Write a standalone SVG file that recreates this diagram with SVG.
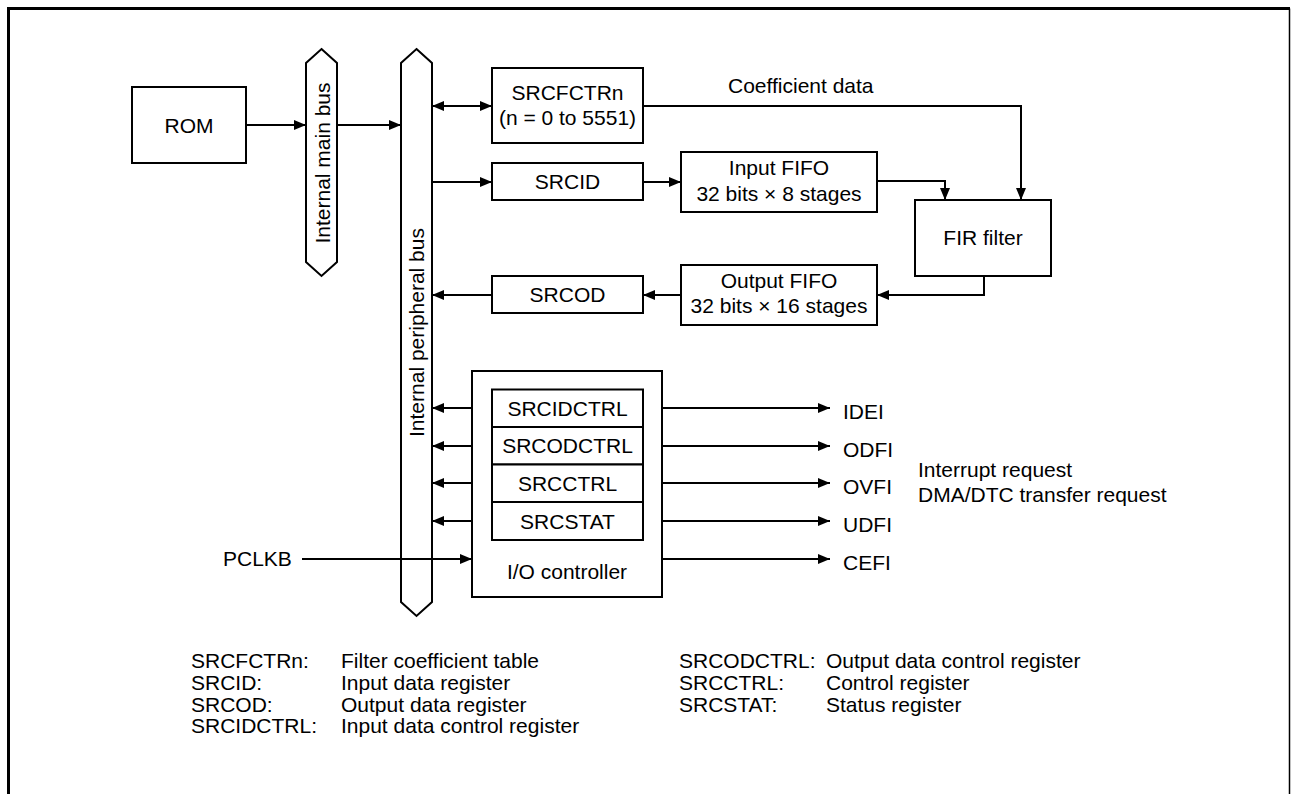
<svg xmlns="http://www.w3.org/2000/svg" width="1291" height="794" viewBox="0 0 1291 794">
<style>
  text { font-family: "Liberation Sans", Arial, sans-serif; font-size: 21px; fill: #000; }
  .c { text-anchor: middle; }
  .box { fill: #fff; stroke: #000; stroke-width: 2; }
  .bus { fill: #fff; stroke: #000; stroke-width: 2; stroke-linejoin: miter; }
  .ln { fill: none; stroke: #000; stroke-width: 2; }
  .a { marker-end: url(#ah); }
  .d { marker-start: url(#ah); marker-end: url(#ah); }
</style>
<defs>
  <marker id="ah" viewBox="0 0 12 10" refX="12" refY="5" markerWidth="12" markerHeight="10" markerUnits="userSpaceOnUse" orient="auto-start-reverse">
    <path d="M0,0 L12,5 L0,10 z" fill="#000"/>
  </marker>
</defs>
<rect width="1291" height="794" fill="#fff"/>
<g id="frame">
  <line x1="8.5" y1="7" x2="8.5" y2="794" stroke="#000" stroke-width="3"/>
  <line x1="7" y1="8.5" x2="1290" y2="8.5" stroke="#000" stroke-width="3"/>
  <line x1="1289.5" y1="8.5" x2="1289.5" y2="794" stroke="#000" stroke-width="1.5"/>
</g>
<g id="connectors">
  <path class="ln a" d="M246,125 H306"/>
  <path class="ln a" d="M337,125 H401"/>
  <path class="ln d" d="M432,106 H492"/>
  <path class="ln a" d="M643,106 H1021 V200"/>
  <path class="ln a" d="M432,182 H492"/>
  <path class="ln a" d="M643,182 H681"/>
  <path class="ln a" d="M877,181 H945 V200"/>
  <path class="ln a" d="M984,276 V295 H877"/>
  <path class="ln a" d="M681,295 H643"/>
  <path class="ln a" d="M492,295 H432"/>
  <path class="ln d" d="M432,408 H492"/>
  <path class="ln d" d="M432,446 H492"/>
  <path class="ln d" d="M432,483 H492"/>
  <path class="ln d" d="M432,521 H492"/>
  <path class="ln a" d="M662,408 H830"/>
  <path class="ln a" d="M662,446 H830"/>
  <path class="ln a" d="M662,483 H830"/>
  <path class="ln a" d="M662,521 H830"/>
  <path class="ln a" d="M662,559 H830"/>
</g>
<g id="rom">
  <rect class="box" x="132" y="87" width="114" height="76"/>
  <text class="c" x="189" y="132.5">ROM</text>
</g>
<g id="main-bus">
  <polygon class="bus" points="321.5,49 337,63 337,262 321.5,276 306,262 306,63"/>
  <text class="c" transform="translate(329.5,163) rotate(-90)">Internal main bus</text>
</g>
<g id="peripheral-bus">
  <polygon class="bus" points="416.5,49 432,63 432,602 416.5,616 401,602 401,63"/>
  <text class="c" transform="translate(423.5,332.5) rotate(-90)">Internal peripheral bus</text>
</g>
<g id="pclkb">
  <text x="223" y="566">PCLKB</text>
  <path class="ln a" d="M302,559 H472"/>
</g>
<g id="srcfctrn">
  <rect class="box" x="492" y="68" width="151" height="75"/>
  <text class="c" x="567.5" y="100">SRCFCTRn</text>
  <text class="c" x="567.5" y="125">(n = 0 to 5551)</text>
</g>
<g id="coef-label">
  <text x="728" y="93">Coefficient data</text>
</g>
<g id="srcid">
  <rect class="box" x="492" y="163" width="151" height="37"/>
  <text class="c" x="567.5" y="189">SRCID</text>
</g>
<g id="input-fifo">
  <rect class="box" x="681" y="152" width="196" height="60"/>
  <text class="c" x="779" y="175">Input FIFO</text>
  <text class="c" x="779" y="201">32 bits × 8 stages</text>
</g>
<g id="fir">
  <rect class="box" x="915" y="200" width="136" height="76"/>
  <text class="c" x="983" y="245">FIR filter</text>
</g>
<g id="output-fifo">
  <rect class="box" x="681" y="265" width="196" height="60"/>
  <text class="c" x="779" y="288">Output FIFO</text>
  <text class="c" x="779" y="313">32 bits × 16 stages</text>
</g>
<g id="srcod">
  <rect class="box" x="492" y="276" width="151" height="37"/>
  <text class="c" x="567.5" y="302">SRCOD</text>
</g>
<g id="io-controller">
  <rect class="box" x="472" y="371" width="190" height="226"/>
  <text class="c" x="567" y="579">I/O controller</text>
</g>
<g id="srcidctrl">
  <rect class="box" x="492" y="389.5" width="151" height="37.5"/>
  <text class="c" x="567.5" y="415.5">SRCIDCTRL</text>
</g>
<g id="srcodctrl">
  <rect class="box" x="492" y="427" width="151" height="37.5"/>
  <text class="c" x="567.5" y="453">SRCODCTRL</text>
</g>
<g id="srcctrl">
  <rect class="box" x="492" y="464.5" width="151" height="37.5"/>
  <text class="c" x="567.5" y="490.5">SRCCTRL</text>
</g>
<g id="srcstat">
  <rect class="box" x="492" y="502" width="151" height="38"/>
  <text class="c" x="567.5" y="528.5">SRCSTAT</text>
</g>
<g id="outputs">
  <text x="843" y="419">IDEI</text>
  <text x="843" y="457">ODFI</text>
  <text x="843" y="494">OVFI</text>
  <text x="843" y="532">UDFI</text>
  <text x="843" y="570">CEFI</text>
  <text x="918" y="477">Interrupt request</text>
  <text x="918" y="502">DMA/DTC transfer request</text>
</g>
<g id="legend">
  <text x="191" y="668">SRCFCTRn:</text>
  <text x="341" y="668">Filter coefficient table</text>
  <text x="191" y="690">SRCID:</text>
  <text x="341" y="690">Input data register</text>
  <text x="191" y="711.5">SRCOD:</text>
  <text x="341" y="711.5">Output data register</text>
  <text x="191" y="733">SRCIDCTRL:</text>
  <text x="341" y="733">Input data control register</text>
  <text x="679" y="668">SRCODCTRL:</text>
  <text x="826" y="668">Output data control register</text>
  <text x="679" y="690">SRCCTRL:</text>
  <text x="826" y="690">Control register</text>
  <text x="679" y="711.5">SRCSTAT:</text>
  <text x="826" y="711.5">Status register</text>
</g>
</svg>
